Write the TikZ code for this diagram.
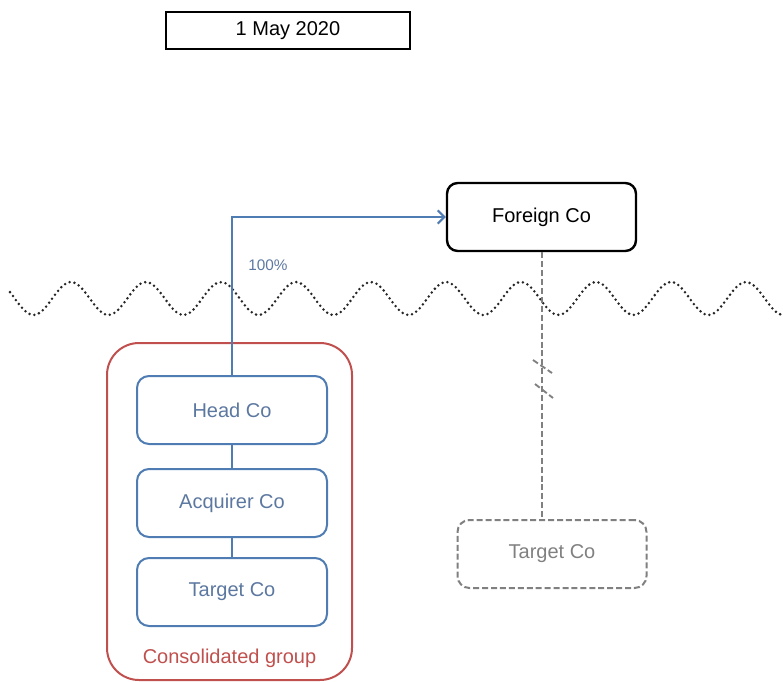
\documentclass[tikz,border=0pt]{standalone}
\usepackage{fontspec}
\setmainfont{Liberation Sans}
\usetikzlibrary{arrows.meta}

\definecolor{coblue}{RGB}{79,124,178}
\definecolor{cotext}{RGB}{92,120,160}
\definecolor{grpred}{RGB}{192,80,77}
\definecolor{gonegrey}{RGB}{128,128,128}

\tikzset{
  datebox/.style={draw, line width=0.9pt, minimum width=183pt, minimum height=27.75pt, inner sep=0pt},
  cobox/.style={draw=coblue, text=cotext, line width=1.5pt, rounded corners=9pt,
    minimum width=142.5pt, minimum height=51pt, inner sep=0pt, fill=white},
  foreignbox/.style={draw, line width=1.8pt, rounded corners=8pt,
    minimum width=141.75pt, minimum height=51pt, inner sep=0pt, fill=white},
  gonebox/.style={draw=gonegrey, text=gonegrey, line width=1.5pt, rounded corners=9pt,
    dash pattern=on 4.5pt off 2.2pt, minimum width=141.75pt, minimum height=51pt, inner sep=0pt},
  grpbox/.style={draw=grpred, line width=1.5pt, rounded corners=24pt,
    minimum width=183.75pt, minimum height=252.75pt, inner sep=0pt},
  wave/.style={draw=black!85, line width=2.1pt, line cap=round, dash pattern=on 0pt off 3.7pt},
  own/.style={draw=coblue, line width=1.5pt},
  gone/.style={draw=gonegrey, line width=1.5pt, dash pattern=on 4.5pt off 2.2pt}
}

\begin{document}
\begin{tikzpicture}[x=0.75pt,y=-0.75pt,>={Straight Barb[length=5pt,width=10pt]},
  font=\fontsize{15}{18}\selectfont]
    \useasboundingbox (0,0) rectangle (783,682);

    % Date and group frame
    \node[datebox] (date) at (288,30.5) {1 May 2020};
    \node[grpbox] (group) at (229.5,511.5) {};
    \node[text=grpred] (grplabel) at (229.5,658) {Consolidated group};

    % Border line
    \draw[wave] plot[domain=10:783, samples=220] (\x, {298.5-16.5*cos(4.8*(\x-146))});

    % Companies
    \node[cobox] (head) at (232,410) {Head Co};
    \node[cobox] (acq) at (232,503) {Acquirer Co};
    \node[cobox] (tgt) at (232,592) {Target Co};
    \node[foreignbox] (foreign) at (541.5,217) {Foreign Co};
    \node[gonebox] (oldtgt) at (552,554) {Target Co};

    % Ownership lines
    \draw[own,->] (head.north) |- (foreign.west);
    \node[text=cotext, font=\fontsize{11.5}{14}\selectfont] (pct) at (268,265) {100\%};
    \draw[own] (head.south) -- (acq.north);
    \draw[own] (acq.south) -- (tgt.north);
    \draw[gone] (foreign.south) -- (foreign.south |- oldtgt.north);

    % Break marks
    \draw[gone, line width=1.4pt] (533,360) -- (552,373);
    \draw[gone, line width=1.4pt] (535,384) -- (553,398);

\end{tikzpicture}
\end{document}
